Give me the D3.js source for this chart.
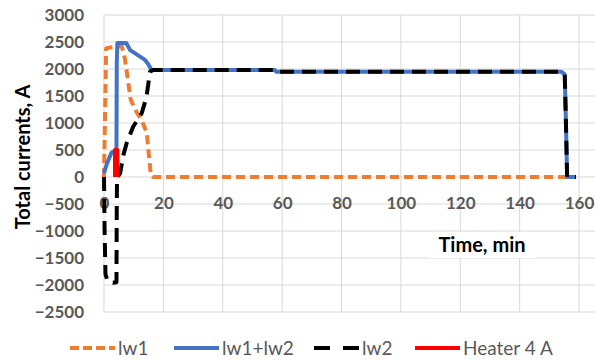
<!DOCTYPE html>
<html>
<head>
<meta charset="utf-8">
<script src="https://cdn.jsdelivr.net/npm/d3@7"></script>
<style>
  body { margin: 0; background: #fff; }
  svg { display: block; font-family: Lato, "Open Sans", sans-serif; }
</style>
</head>
<body>
<div id="chart"></div>
<script>
// time in min, current in A
const lw1 = [[0, 0], [0.3, 1000], [0.7, 2380], [2, 2400], [6, 2420], [7, 2200], [9, 1430], [11, 1200],
    [12.7, 1050], [14.4, 820], [15.3, 300], [15.8, 30], [16.5, 0], [159, 0]]
const lw12 = [[0, 70], [1, 250], [2.5, 450], [4.2, 500], [4.3, 2100], [4.5, 2480], [7.5, 2480], [8.8, 2350],
    [11, 2270], [13.8, 2170], [15, 2080], [16, 1980], [57.5, 1980], [58, 1950], [154, 1950], [155.2, 1900],
    [155.6, 1000], [156, 0], [159, 0]]
const lw2 = [[0, 0], [0.2, -1000], [0.5, -1800], [1.2, -1930], [3, -1960], [4.2, -1950], [4.3, -500], [4.4, 0],
    [5.4, 60], [6.5, 400], [7.6, 620], [9.8, 930], [12.7, 1180], [14.3, 1480], [15.5, 1950], [16.5, 1980],
    [57.5, 1980], [58, 1950], [154, 1950], [155.2, 1900], [155.6, 1000], [156, 0], [159, 0]]
const heater = [[3.7, 0], [3.7, 500], [4.5, 500], [4.5, 0]]

const xTicks = [0, 20, 40, 60, 80, 100, 120, 140, 160]
const yTicks = [-2500, -2000, -1500, -1000, -500, 0, 500, 1000, 1500, 2000, 2500, 3000]

const series = [
    { name: 'lw1', data: lw1, color: '#ED7D31', dash: '9,5' },
    { name: 'lw1+lw2', data: lw12, color: '#4472C4', dash: null },
    { name: 'lw2', data: lw2, color: '#000000', dash: '14,8' },
    { name: 'Heater 4 A', data: heater, color: '#FF0000', dash: null }
]

const W = 595, H = 360
const svg = d3.select('#chart').append('svg')
    .attr('width', W)
    .attr('height', H)

const x = d3.scaleLinear().domain([0, 170]).range([104, 104 + 170 * 475 / 160])
const y = d3.scaleLinear().domain([-2500, 3000]).range([312, 15])

// gridlines
svg.append('g').selectAll('line').data(yTicks).enter().append('line')
    .attr('x1', x(0)).attr('x2', x(170))
    .attr('y1', d => y(d)).attr('y2', d => y(d))
    .attr('stroke', '#d9d9d9').attr('stroke-width', 1)
svg.append('g').selectAll('line').data(xTicks).enter().append('line')
    .attr('x1', d => x(d)).attr('x2', d => x(d))
    .attr('y1', y(3000)).attr('y2', y(-2500))
    .attr('stroke', '#d9d9d9').attr('stroke-width', 1)

// axes (labels only)
svg.append('g')
    .attr('transform', `translate(${x(0)},0)`)
    .call(d3.axisLeft(y).tickValues(yTicks).tickFormat(d3.format('d')).tickSize(0).tickPadding(20))
svg.append('g')
    .attr('transform', `translate(0,${y(0)})`)
    .call(d3.axisBottom(x).tickValues(xTicks).tickFormat(d3.format('d')).tickSize(0).tickPadding(20))
svg.selectAll('.domain').remove()
svg.selectAll('.tick text')
    .attr('fill', '#595959')
    .style('font-size', '17px')
    .style('font-weight', 'bold')
    .style('font-family', 'Lato, sans-serif')

// x title with white box behind
const tg = svg.append('g')
tg.append('rect').attr('x', 428).attr('y', 232).attr('width', 108).attr('height', 26).attr('fill', '#fff')
tg.append('text').attr('x', 482).attr('y', 252)
    .attr('text-anchor', 'middle')
    .style('font-size', '20px').style('font-weight', 'bold')
    .text('Time, min')

svg.append('text')
    .attr('transform', 'rotate(-90)')
    .attr('x', -157).attr('y', 30)
    .attr('text-anchor', 'middle')
    .style('font-size', '20px').style('font-weight', 'bold')
    .text('Total currents, A')

// series
const line = d3.line().x(d => x(d[0])).y(d => y(d[1]))
svg.append('g').selectAll('path').data(series).enter().append('path')
    .attr('d', d => line(d.data))
    .attr('fill', 'none')
    .attr('stroke', d => d.color)
    .attr('stroke-width', 4)
    .attr('stroke-linejoin', 'round')
    .attr('stroke-dasharray', d => d.dash)

// legend
const legX = [70, 174, 314, 415]
const leg = svg.append('g').selectAll('g').data(series).enter().append('g')
    .attr('transform', (d, i) => `translate(${legX[i]},348)`)
leg.append('line')
    .attr('x1', 0).attr('x2', 45).attr('y1', 0).attr('y2', 0)
    .attr('stroke', d => d.color).attr('stroke-width', 4)
    .attr('stroke-dasharray', (d, i) => i === 0 ? '9,4' : (i === 2 ? '16,13' : null))
leg.append('text')
    .attr('x', 48).attr('y', 0).attr('dy', '0.35em')
    .attr('fill', '#595959')
    .style('font-size', '19px')
    .text(d => d.name)
</script>
</body>
</html>
